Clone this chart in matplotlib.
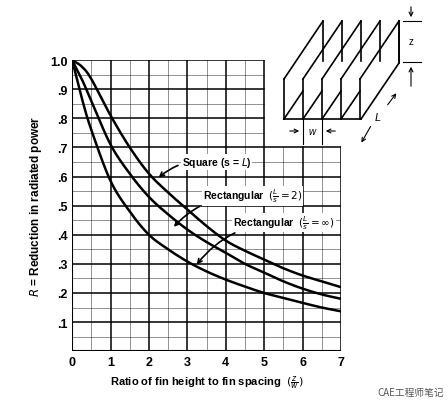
import matplotlib
matplotlib.use("Agg")
import matplotlib.pyplot as plt
import numpy as np

x = [0, 0.25, 0.5, 1, 1.5, 2, 2.5, 3, 3.5, 4, 4.5, 5, 5.5, 6, 6.5, 7]
square = [1.0, 0.978, 0.935, 0.81, 0.70, 0.61, 0.545, 0.487, 0.43, 0.38, 0.345, 0.315, 0.285, 0.26, 0.24, 0.22]
rect2 = [1.0, 0.935, 0.86, 0.71, 0.61, 0.53, 0.47, 0.418, 0.375, 0.338, 0.30, 0.27, 0.24, 0.215, 0.195, 0.18]
rectinf = [1.0, 0.87, 0.76, 0.585, 0.48, 0.40, 0.35, 0.308, 0.274, 0.246, 0.222, 0.20, 0.183, 0.166, 0.15, 0.137]
yticks = [0.1, 0.2, 0.3, 0.4, 0.5, 0.6, 0.7, 0.8, 0.9, 1.0]
ylabels = [".1", ".2", ".3", ".4", ".5", ".6", ".7", ".8", ".9", "1.0"]
xticks = [0, 1, 2, 3, 4, 5, 6, 7]

def smooth(xs, ys, n=20):
    # Catmull-Rom rendering through the read points
    xs = np.asarray(xs, float); ys = np.asarray(ys, float)
    P = np.column_stack([xs, ys])
    P = np.vstack([2 * P[0] - P[1], P, 2 * P[-1] - P[-2]])
    out = []
    t = np.linspace(0, 1, n, endpoint=False)[:, None]
    for i in range(1, len(P) - 2):
        p0, p1, p2, p3 = P[i - 1], P[i], P[i + 1], P[i + 2]
        out.append(0.5 * ((2 * p1) + (-p0 + p2) * t + (2 * p0 - 5 * p1 + 4 * p2 - p3) * t ** 2
                          + (-p0 + 3 * p1 - 3 * p2 + p3) * t ** 3))
    out.append(P[-2][None, :])
    out = np.vstack(out)
    return out[:, 0], out[:, 1]

plt.rcParams['font.family'] = ['Liberation Sans', 'DejaVu Sans']
fig = plt.figure(figsize=(4.48, 4.10), dpi=100)
ax = fig.add_axes([0.161, 0.141, 0.600, 0.710])
ax.set_xlim(0, 7)
ax.set_ylim(0, 1.0)
for s in ax.spines.values():
    s.set_visible(False)
ax.tick_params(length=0, labelsize=9)
ax.set_xticks(xticks)
ax.set_xticklabels([str(t) for t in xticks], fontweight='bold')
ax.set_yticks(yticks)
ax.set_yticklabels(ylabels, fontweight='bold')

for yv in np.arange(0.05, 1.001, 0.05):
    major = abs(round(yv * 10) - yv * 10) < 1e-6
    xe = 7 if yv <= 0.7001 else 5
    ax.plot([0, xe], [yv, yv], color='black', lw=1.1 if major else 0.5, alpha=1 if major else 0.6)
for xv in np.arange(0.5, 7.001, 0.5):
    major = abs(xv - round(xv)) < 1e-6
    ye = 1.0 if xv <= 5.001 else 0.7
    ax.plot([xv, xv], [0, ye], color='black', lw=1.1 if major else 0.5, alpha=1 if major else 0.6)
ax.plot([0, 0], [0, 1], color='black', lw=1.5)
ax.plot([0, 7], [0, 0], color='black', lw=1.5)

for ys in (square, rect2, rectinf):
    sx, sy = smooth(x, ys)
    ax.plot(sx, sy, color='black', lw=1.8, solid_capstyle='round')

ap = dict(arrowstyle='->', color='black', lw=1.2, connectionstyle='arc3,rad=0.25')
bb = dict(boxstyle='square,pad=0.1', fc='white', ec='none')
ax.annotate('Square (s = $L$)', xy=(2.2, 0.59), xytext=(2.85, 0.64), fontsize=7.5, fontweight='bold', arrowprops=ap, bbox=bb)
ax.annotate(r'Rectangular  $(\frac{L}{s}=2)$', xy=(2.6, 0.42), xytext=(3.4, 0.52), fontsize=7.5, fontweight='bold', arrowprops=ap, bbox=bb)
ax.annotate(r'Rectangular  $(\frac{L}{s}=\infty)$', xy=(3.2, 0.29), xytext=(4.2, 0.43), fontsize=7.5, fontweight='bold', arrowprops=ap, bbox=bb)

ax.set_ylabel(r'$R$ = Reduction in radiated power', fontsize=8.5, fontweight='bold')
ax.set_xlabel(r'Ratio of fin height to fin spacing  $(\frac{z}{w})$', fontsize=8, fontweight='bold')

W, H = 448, 410
def L(xs, ys, lw=1.2):
    fig.add_artist(plt.Line2D([p / W for p in xs], [1 - p / H for p in ys], color='black', lw=lw))
for i in range(5):
    bx = 284 + i * 19
    L([bx, bx + 39], [80, 22])
    L([bx + 39, bx + 39], [22, 62])
    L([bx, bx], [80, 120])
    if i < 4:
        L([bx, bx + 19], [120, 92])
L([284, 361], [120, 120])
L([361, 399], [120, 64])
L([399, 399], [22, 64])
L([303, 303], [120, 145], 0.8)
L([322, 322], [120, 145], 0.8)
fig.text(312 / W, 1 - 132 / H, 'w', fontsize=7, style='italic', ha='center', va='center')
fig.add_artist(plt.Line2D([403 / W, 421 / W], [1 - 22 / H] * 2, color='black', lw=0.8))
fig.add_artist(plt.Line2D([403 / W, 421 / W], [1 - 63 / H] * 2, color='black', lw=0.8))
fig.text(411 / W, 1 - 42 / H, 'z', fontsize=7, ha='center', va='center')
fig.text(378 / W, 1 - 118 / H, 'L', fontsize=8, style='italic', ha='center', va='center')
for (x0, y0, x1, y1) in [(287, 132, 302, 132), (338, 132, 323, 132), (411, 5, 411, 21), (411, 90, 411, 65), (372, 125, 360, 146), (386, 108, 398, 92)]:
    fig.add_artist(matplotlib.patches.FancyArrowPatch((x0 / W, 1 - y0 / H), (x1 / W, 1 - y1 / H),
                   transform=fig.transFigure, arrowstyle='->', mutation_scale=7, color='black', lw=0.8))

fig.text(0.99, 0.03, 'CAE工程师笔记', fontsize=7, color='#555555', ha='right', va='bottom',
         family=['Noto Sans CJK SC', 'DejaVu Sans'])
fig.savefig('out.png', dpi=100, facecolor='white')
